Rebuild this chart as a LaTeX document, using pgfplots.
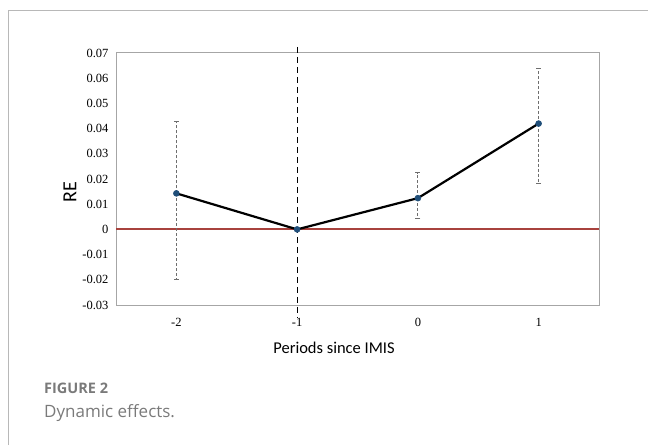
\documentclass[border=0pt]{standalone}
\usepackage{fontspec}
\setmainfont{Liberation Serif}
\newfontfamily\labelfont{Carlito}
\newfontfamily\capfont{Open Sans}
\usepackage{pgfplots}
\pgfplotsset{compat=1.18}

\definecolor{axisgray}{HTML}{A6A6A6}
\definecolor{refred}{HTML}{A8423D}
\definecolor{dotblue}{HTML}{1F4E79}
\definecolor{capgray}{HTML}{7A7A7A}
\definecolor{bargray}{HTML}{6E6E6E}

\begin{document}
\begin{tikzpicture}[x=1pt,y=1pt]
\useasboundingbox (0,0) rectangle (648,445);
% outer frame of the figure panel
\draw[axisgray!80, line width=1pt] (8,0) -- (8,434) -- (648,434);

\begin{axis}[
    at={(116pt,140pt)}, anchor=south west,
    scale only axis,
    width=483pt, height=252pt,
    xmin=-2.5, xmax=1.5,
    ymin=-0.03, ymax=0.07,
    xtick={-2,-1,0,1},
    ytick={-0.03,-0.02,-0.01,0,0.01,0.02,0.03,0.04,0.05,0.06,0.07},
    scaled y ticks=false,
    major tick length=0pt,
    axis line style={axisgray, line width=1pt},
    tick label style={font=\fontsize{12.5}{14}\selectfont, black},
    yticklabel style={/pgf/number format/fixed, /pgf/number format/precision=2,
        /pgf/number format/fixed zerofill=false,
        /pgf/number format/assume math mode=true, xshift=-4pt},
    xticklabel style={/pgf/number format/assume math mode=true, yshift=-10pt},
    clip=false,
]
% zero reference line
\addplot[refred, line width=2.1pt, mark=none] coordinates {(-2.5,0) (1.5,0)};
% event line at -1
\addplot[black, line width=1.2pt, dash pattern=on 6pt off 4pt] coordinates {(-1,0.0724) (-1,-0.0348)};

% estimates with confidence intervals
\addplot[
    black, line width=2.2pt,
    mark=*, mark size=3pt,
    mark options={dotblue, fill=dotblue, solid, line width=0.5pt},
    error bars/.cd,
        y dir=both, y explicit,
        error bar style={bargray, line width=1pt, dash pattern=on 3pt off 2pt},
        error mark options={rotate=90, mark size=2.5pt, bargray, solid, line width=1pt},
] coordinates {
    (-2,0.0143) += (0,0.0285) -= (0,0.0340)
    (-1,0.0000) += (0,0) -= (0,0)
    (0,0.0124)  += (0,0.0101) -= (0,0.0082)
    (1,0.0420)  += (0,0.0219) -= (0,0.0237)
};
\end{axis}

% axis titles
\node[font=\labelfont\fontsize{20}{22}\selectfont, rotate=90] at (70,253) {RE};
\node[font=\labelfont\fontsize{16.5}{18}\selectfont, anchor=base] at (334,92) {Periods since IMIS};

% caption
\node[anchor=base west, inner sep=0pt, text=capgray, font=\capfont\bfseries\fontsize{14.5}{16}\selectfont] at (44,52) {FIGURE 2};
\node[anchor=base west, inner sep=0pt, text=capgray, font=\capfont\fontsize{17}{19}\selectfont] at (44,28) {Dynamic effects.};
\end{tikzpicture}
\end{document}
